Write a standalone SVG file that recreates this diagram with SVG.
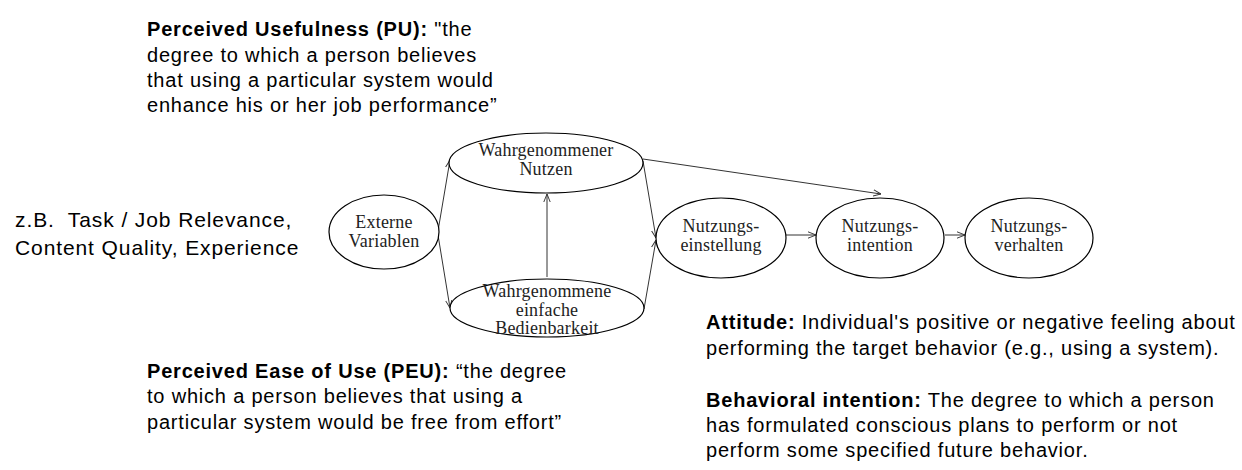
<svg xmlns="http://www.w3.org/2000/svg" width="1242" height="470" viewBox="0 0 1242 470">
<style>
.node ellipse{fill:#fff;stroke:#000;stroke-width:1.2}
.node text{font-family:"Liberation Serif","DejaVu Serif",serif;font-size:18px;letter-spacing:0.2px;fill:#222;text-anchor:middle}
.conn line{stroke:#333;stroke-width:1;fill:none;marker-end:url(#arr)}
.note{font-family:"Liberation Sans",Arial,sans-serif;font-size:20px;letter-spacing:0.8px;fill:#000}
.note .b{font-weight:bold}
#ext-note{font-size:21px;letter-spacing:0.9px}
</style>
<defs>
<marker id="arr" viewBox="0 0 10 10" refX="10" refY="5" markerWidth="8" markerHeight="8" orient="auto" markerUnits="userSpaceOnUse">
<path d="M0,1 L10,5 L0,9" fill="none" stroke="#333" stroke-width="1.2"/>
</marker>
</defs>
<rect width="1242" height="470" fill="#fff"/>
<g class="conn">
<line x1="438" y1="231" x2="450" y2="160"/>
<line x1="438" y1="235" x2="450" y2="308"/>
<line x1="547" y1="277" x2="547" y2="194"/>
<line x1="643" y1="161" x2="656" y2="238"/>
<line x1="644" y1="309" x2="656" y2="240"/>
<line x1="643" y1="159" x2="881" y2="194"/>
<line x1="786" y1="235" x2="816" y2="235"/>
<line x1="945" y1="235" x2="965" y2="235"/>
</g>
<g id="externe" class="node">
<ellipse cx="384" cy="232" rx="55" ry="37"/>
<text x="384" y="228">Externe</text>
<text x="384" y="247">Variablen</text>
</g>
<g id="pu" class="node">
<ellipse cx="546" cy="163" rx="97" ry="30"/>
<text x="546" y="156">Wahrgenommener</text>
<text x="546" y="175">Nutzen</text>
</g>
<g id="peu" class="node">
<ellipse cx="547" cy="308" rx="97" ry="29"/>
<text x="547" y="297">Wahrgenommene</text>
<text x="547" y="316">einfache</text>
<text x="547" y="334">Bedienbarkeit</text>
</g>
<g id="einstellung" class="node">
<ellipse cx="721" cy="238" rx="65" ry="40"/>
<text x="721" y="232">Nutzungs-</text>
<text x="721" y="251">einstellung</text>
</g>
<g id="intention" class="node">
<ellipse cx="880" cy="238" rx="64" ry="40"/>
<text x="880" y="232">Nutzungs-</text>
<text x="880" y="251">intention</text>
</g>
<g id="verhalten" class="node">
<ellipse cx="1029" cy="238" rx="64" ry="40"/>
<text x="1029" y="232">Nutzungs-</text>
<text x="1029" y="251">verhalten</text>
</g>
<g id="pu-note" class="note">
<text x="147" y="36"><tspan class="b">Perceived Usefulness (PU):</tspan> "the</text>
<text x="147" y="62">degree to which a person believes</text>
<text x="147" y="87">that using a particular system would</text>
<text x="147" y="112">enhance his or her job performance”</text>
</g>
<g id="ext-note" class="note">
<text x="15" y="227" xml:space="preserve">z.B.  Task / Job Relevance,</text>
<text x="15" y="255">Content Quality, Experience</text>
</g>
<g id="peu-note" class="note">
<text x="147" y="378"><tspan class="b">Perceived Ease of Use (PEU):</tspan> “the degree</text>
<text x="147" y="403">to which a person believes that using a</text>
<text x="147" y="429">particular system would be free from effort”</text>
</g>
<g id="att-note" class="note">
<text x="706" y="329"><tspan class="b">Attitude:</tspan> Individual's positive or negative feeling about</text>
<text x="706" y="355">performing the target behavior (e.g., using a system).</text>
<text x="706" y="407"><tspan class="b">Behavioral intention:</tspan> The degree to which a person</text>
<text x="706" y="432">has formulated conscious plans to perform or not</text>
<text x="706" y="457">perform some specified future behavior.</text>
</g>
</svg>
